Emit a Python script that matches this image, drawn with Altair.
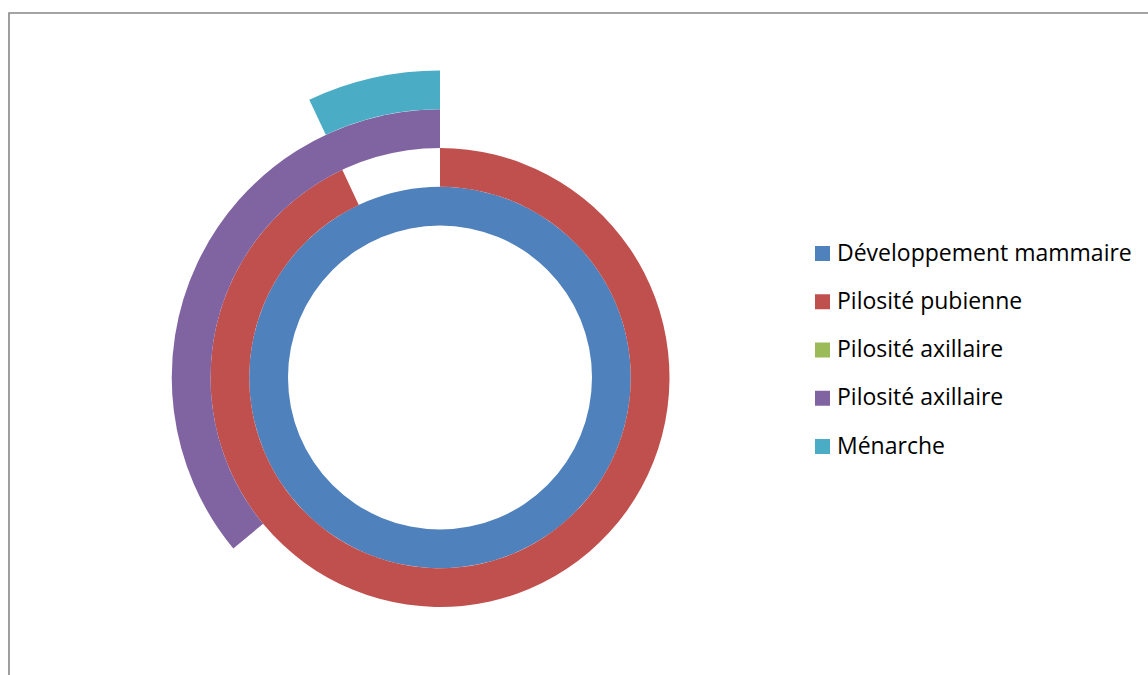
import altair as alt
import pandas as pd

# Legend series (Excel-style doughnut, one ring per series)
series = ["Développement mammaire", "Pilosité pubienne", "Pilosité axillaire",
          "Pilosité axillaire ", "Ménarche"]
colors = ["#4F81BD", "#C0504D", "#9BBB59", "#8064A2", "#4BACC6"]

# Visible ring segments (percent of full circle, clockwise from 12 o'clock)
ring_series = ["Développement mammaire", "Pilosité pubienne", "Pilosité axillaire ", "Ménarche"]
ring_index = [0, 1, 2, 3]
start_pct = [0, 0, 64, 93]
end_pct = [100, 93, 100, 100]

df = pd.DataFrame({
    "series": ring_series,
    "ring": ring_index,
    "ring_out": [r + 1 for r in ring_index],
    "start": start_pct,
    "end": end_pct,
})

border = alt.Chart(pd.DataFrame({"a": [0]})).mark_rect(
    fillOpacity=0, stroke="#878787", strokeWidth=1.6
).encode(
    x=alt.value(9), y=alt.value(13), x2=alt.value(1400), y2=alt.value(900)
)

rings = alt.Chart(df).mark_arc().encode(
    x=alt.value(440),
    y=alt.value(377.5),
    theta=alt.Theta("start:Q", scale=alt.Scale(domain=[0, 100], range=[0, 6.283185307179586])),
    theta2="end:Q",
    radius=alt.Radius("ring:Q", scale=alt.Scale(type="linear", domain=[0, 4], range=[152, 307])),
    radius2="ring_out:Q",
    color=alt.Color(
        "series:N",
        scale=alt.Scale(domain=series, range=colors),
        legend=alt.Legend(
            title=None,
            orient="none",
            legendX=811,
            legendY=242,
            symbolType="square",
            symbolSize=225,
            symbolStrokeWidth=0,
            symbolOpacity=1,
            labelFont="Open Sans",
            labelFontSize=23,
            labelColor="#000000",
            labelOffset=3,
            rowPadding=24.25,
            padding=0,
            labelLimit=400,
        ),
    ),
)

chart = alt.layer(border, rings).properties(
    width=1148, height=675, padding=0, autosize="none", background="white"
).configure_view(strokeOpacity=0)

chart.save("out.html", embed_options={"renderer": "svg", "actions": False})
